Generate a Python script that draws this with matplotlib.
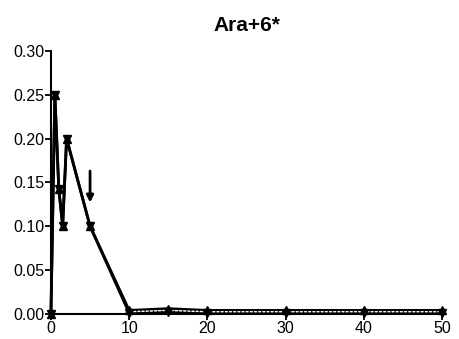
import matplotlib
matplotlib.use("Agg")
import matplotlib.pyplot as plt

plt.rcParams['font.family'] = ['Liberation Sans', 'DejaVu Sans']

title = "Ara+6*"
x = [0, 0.5, 1, 1.5, 2, 5, 10, 15, 20, 30, 40, 50]
series_a = [0.0, 0.25, 0.143, 0.10, 0.20, 0.10, 0.004, 0.006, 0.004, 0.004, 0.004, 0.004]
series_b = [0.0, 0.25, 0.143, 0.10, 0.20, 0.10, 0.001, 0.002, 0.001, 0.001, 0.001, 0.001]
x_tail = [10, 15, 20, 30, 40, 50]
series_c = [0.0025, 0.004, 0.0025, 0.0025, 0.0025, 0.0025]
arrow_x = 5
arrow_top, arrow_tip = 0.163, 0.127
xticks = [0, 10, 20, 30, 40, 50]
yticks = [0.00, 0.05, 0.10, 0.15, 0.20, 0.25, 0.30]

fig = plt.figure(figsize=(4.59, 3.39), dpi=100)
ax = fig.add_axes([0.111, 0.074, 0.852, 0.776])

ax.plot(x, series_b, color='black', lw=2.0, zorder=3)
ax.plot(x, series_a, color='black', lw=2.0, zorder=3)
ax.plot(x_tail, series_c, color='white', lw=1.0, ls=(0, (2, 1)), zorder=4)
ax.plot(x, series_b, ls='none', marker='v', ms=6, color='black', zorder=5)
ax.plot(x, series_a, ls='none', marker='^', ms=6, color='black', zorder=5)

ax.annotate('', xy=(arrow_x, arrow_tip), xytext=(arrow_x, arrow_top),
            arrowprops=dict(arrowstyle='-|>', color='black', lw=2.0,
                            mutation_scale=10, shrinkA=0, shrinkB=0))

ax.set_xlim(0, 50)
ax.set_ylim(0, 0.30)
ax.set_xticks(xticks)
ax.set_yticks(yticks)
ax.set_yticklabels([f"{v:.2f}" for v in yticks])
ax.spines['top'].set_visible(False)
ax.spines['right'].set_visible(False)
for s in ('left', 'bottom'):
    ax.spines[s].set_linewidth(1.5)
ax.tick_params(direction='out', length=4, width=1.3, labelsize=11.5, pad=1)
ax.set_title(title, fontsize=15, fontweight='bold', pad=14)
for line in ax.lines:
    line.set_clip_on(False)

fig.savefig("out.png", dpi=100)
